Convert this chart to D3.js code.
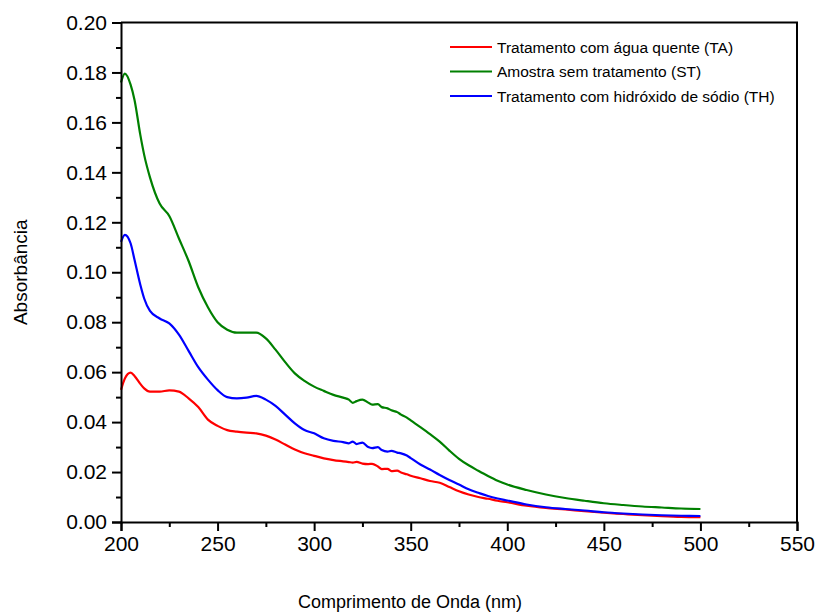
<!DOCTYPE html>
<html>
<head>
<meta charset="utf-8">
<script src="https://cdn.jsdelivr.net/npm/d3@7"></script>
<style>
  body { margin: 0; background: #fff; }
  svg { display: block; font-family: Arial, "Liberation Sans", sans-serif; }
</style>
</head>
<body>
<div id="chart"></div>
<script>
// DATA
const wavelength = [200, 202, 205, 207, 210, 212, 215, 220, 225, 230, 235, 240, 245, 250, 255, 260, 265, 270, 275, 280,
    285, 290, 295, 300, 305, 310, 315, 318, 320, 322, 325, 328, 330, 333, 335, 338, 340, 343, 345, 348,
    350, 355, 360, 365, 370, 375, 380, 385, 390, 395, 400, 410, 420, 430, 440, 450, 460, 470, 480, 490, 500];

// Tratamento com água quente (TA)
const absTA = [0.0529, 0.0575, 0.0598, 0.0585, 0.0553, 0.0535, 0.0522, 0.0522, 0.0527, 0.0522, 0.0495, 0.0460, 0.0410, 0.0385, 0.0368, 0.0362, 0.0358, 0.0355, 0.0346, 0.0330,
    0.0310, 0.0290, 0.0275, 0.0265, 0.0255, 0.0248, 0.0243, 0.0240, 0.0238, 0.0241, 0.0234, 0.0232, 0.0233, 0.0222, 0.0212, 0.0213, 0.0204, 0.0206, 0.0198, 0.0191,
    0.0185, 0.0175, 0.0164, 0.0157, 0.0140, 0.0123, 0.0110, 0.0100, 0.0093, 0.0085, 0.0079, 0.0065, 0.0056, 0.0050, 0.0043, 0.0037, 0.0032, 0.0027, 0.0023, 0.0020, 0.0019];

// Amostra sem tratamento (ST)
const absST = [0.1760, 0.1795, 0.1750, 0.1690, 0.1550, 0.1470, 0.1380, 0.1275, 0.1225, 0.1135, 0.1045, 0.0940, 0.0860, 0.0800, 0.0770, 0.0758, 0.0758, 0.0758, 0.0735, 0.0690,
    0.0640, 0.0595, 0.0565, 0.0542, 0.0525, 0.0509, 0.0498, 0.0490, 0.0477, 0.0484, 0.0490, 0.0478, 0.0470, 0.0472, 0.0460, 0.0455, 0.0447, 0.0440, 0.0430, 0.0418,
    0.0407, 0.0380, 0.0352, 0.0322, 0.0286, 0.0253, 0.0227, 0.0205, 0.0184, 0.0165, 0.0150, 0.0128, 0.0110, 0.0096, 0.0085, 0.0075, 0.0068, 0.0062, 0.0058, 0.0054, 0.0052];

// Tratamento com hidróxido de sódio (TH)
const absTH = [0.1122, 0.1150, 0.1115, 0.1050, 0.0950, 0.0895, 0.0845, 0.0815, 0.0795, 0.0750, 0.0685, 0.0620, 0.0570, 0.0528, 0.0500, 0.0495, 0.0498, 0.0505, 0.0490, 0.0465,
    0.0430, 0.0395, 0.0368, 0.0355, 0.0335, 0.0325, 0.0320, 0.0315, 0.0322, 0.0312, 0.0318, 0.0300, 0.0296, 0.0300, 0.0288, 0.0282, 0.0285, 0.0278, 0.0275, 0.0266,
    0.0256, 0.0230, 0.0210, 0.0188, 0.0168, 0.0150, 0.0131, 0.0117, 0.0104, 0.0094, 0.0086, 0.0070, 0.0059, 0.0052, 0.0046, 0.0039, 0.0034, 0.0030, 0.0027, 0.0025, 0.0024];

const seriesNames = ["Tratamento com água quente (TA)", "Amostra sem tratamento (ST)", "Tratamento com hidróxido de sódio (TH)"];
const seriesValues = [absTA, absST, absTH];
const seriesColors = ["#ff0000", "#008000", "#0000ff"];

const xTicks = [200, 250, 300, 350, 400, 450, 500, 550];
const xMinor = [225, 275, 325, 375, 425, 475, 525];
const yTicks = [0, 0.02, 0.04, 0.06, 0.08, 0.10, 0.12, 0.14, 0.16, 0.18, 0.20];
const yMinor = [0.01, 0.03, 0.05, 0.07, 0.09, 0.11, 0.13, 0.15, 0.17, 0.19];

// GRAPH CONSTANTS
const w = 818;
const h = 615;
const padLeft = 121;
const padRight = 21;
const padTop = 22.5;
const padBottom = 93;

// SCALES
const xScale = d3.scaleLinear().domain([200, 550]).range([padLeft, w - padRight]);
const yScale = d3.scaleLinear().domain([0, 0.2]).range([h - padBottom, padTop]);

const svg = d3.select('#chart')
    .append('svg')
    .attr('width', w)
    .attr('height', h);

// FRAME (top / right)
svg.append('path')
    .attr('d', `M${padLeft},${padTop}H${w - padRight}V${h - padBottom}`)
    .attr('fill', 'none')
    .attr('stroke', '#000')
    .attr('stroke-width', 2);

// LINES
const line = d3.line()
    .x(d => xScale(d[0]))
    .y(d => yScale(d[1]))
    .curve(d3.curveMonotoneX);

seriesValues.forEach((vals, i) => {
    svg.append('path')
        .datum(wavelength.map((wl, j) => [wl, vals[j]]))
        .attr('fill', 'none')
        .attr('stroke', seriesColors[i])
        .attr('stroke-width', 2.2)
        .attr('stroke-linejoin', 'round')
        .attr('d', line);
});

// AXES
const xAxis = d3.axisBottom(xScale).tickValues(xTicks).tickSize(9).tickPadding(5).tickFormat(d3.format('d'));
const xAxisMinor = d3.axisBottom(xScale).tickValues(xMinor).tickSize(5).tickFormat('');
const yAxis = d3.axisLeft(yScale).tickValues(yTicks).tickSize(9).tickPadding(5).tickFormat(d3.format('.2f'));
const yAxisMinor = d3.axisLeft(yScale).tickValues(yMinor).tickSize(5).tickFormat('');

function styleAxis(g) {
    g.select('.domain').attr('stroke-width', 2);
    g.selectAll('.tick line').attr('stroke-width', 2);
    g.selectAll('.tick text').attr('font-size', 21).attr('font-family', 'Arial, "Liberation Sans", sans-serif').attr('fill', '#000');
}

svg.append('g')
    .attr('transform', `translate(0, ${h - padBottom})`)
    .call(xAxisMinor)
    .call(g => g.select('.domain').remove())
    .call(g => g.selectAll('.tick line').attr('stroke-width', 2));
svg.append('g')
    .attr('transform', `translate(0, ${h - padBottom})`)
    .call(xAxis)
    .call(styleAxis);

svg.append('g')
    .attr('transform', `translate(${padLeft}, 0)`)
    .call(yAxisMinor)
    .call(g => g.select('.domain').remove())
    .call(g => g.selectAll('.tick line').attr('stroke-width', 2));
svg.append('g')
    .attr('transform', `translate(${padLeft}, 0)`)
    .call(yAxis)
    .call(styleAxis);

// AXIS TITLES
svg.append('text')
    .attr('x', 410)
    .attr('y', 608)
    .attr('text-anchor', 'middle')
    .attr('font-size', 18)
    .text('Comprimento de Onda (nm)');

svg.append('text')
    .attr('transform', `translate(27, ${(padTop + h - padBottom) / 2}) rotate(-90)`)
    .attr('text-anchor', 'middle')
    .attr('font-size', 19)
    .text('Absorbância');

// LEGEND
const legend = svg.append('g');
seriesNames.forEach((name, i) => {
    const y = 47 + i * 24.5;
    legend.append('line')
        .attr('x1', 450).attr('x2', 492)
        .attr('y1', y).attr('y2', y)
        .attr('stroke', seriesColors[i])
        .attr('stroke-width', 2.2);
    legend.append('text')
        .attr('x', 497)
        .attr('y', y + 5.5)
        .attr('font-size', 15.5)
        .text(name);
});
</script>
</body>
</html>
